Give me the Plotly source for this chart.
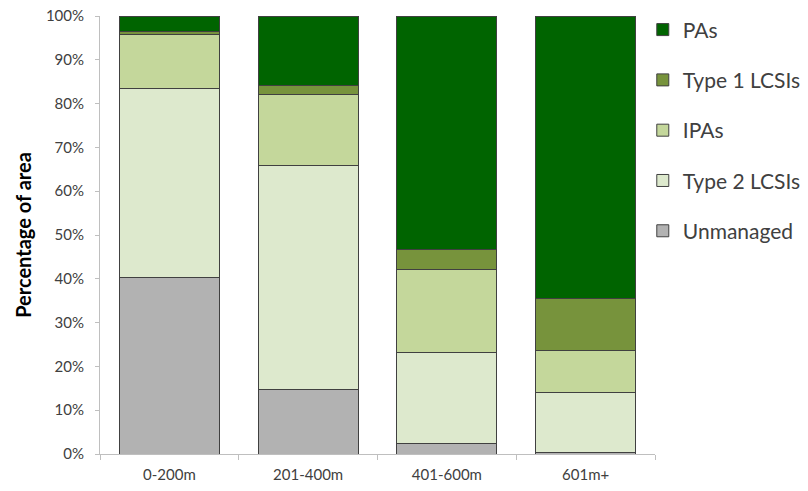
import plotly.graph_objects as go

categories = ["0-200m", "201-400m", "401-600m", "601m+"]
unmanaged = [40.3, 14.8, 2.5, 0.45]
type2_lcsis = [43.1, 51.0, 20.6, 13.65]
ipas = [12.3, 16.3, 19.1, 9.6]
type1_lcsis = [0.7, 2.1, 4.6, 11.8]
pas = [3.6, 15.8, 53.2, 64.5]

series = [
    ("Unmanaged", unmanaged, "#b2b2b2"),
    ("Type 2 LCSIs", type2_lcsis, "#dde9cd"),
    ("IPAs", ipas, "#c4d79b"),
    ("Type 1 LCSIs", type1_lcsis, "#77933c"),
    ("PAs", pas, "#006400"),
]

fig = go.Figure()
for i, (name, vals, col) in enumerate(series):
    fig.add_trace(go.Bar(
        x=categories, y=vals, name=name, legendgroup=name,
        legendrank=len(series) - i,
        marker=dict(color=col, line=dict(color="#404040", width=1)),
    ))

fig.update_layout(
    barmode="stack",
    bargap=0.28,
    width=808, height=491,
    margin=dict(l=100, r=153, t=16, b=37, autoexpand=False),
    paper_bgcolor="white", plot_bgcolor="white",
    font=dict(family="Lato, Open Sans, sans-serif", color="#404040"),
    legend=dict(
        x=0.978, y=1.015, xanchor="left", yanchor="top",
        traceorder="grouped", tracegroupgap=20,
        font=dict(size=21, color="#404040"),
        itemwidth=30,
    ),
    xaxis=dict(
        showline=True, linecolor="#bfbfbf", linewidth=1,
        ticks="outside", tickson="boundaries", ticklen=5, tickcolor="#bfbfbf",
        tickfont=dict(size=15, color="#404040"), ticklabelstandoff=7,
    ),
    yaxis=dict(
        range=[0, 100], dtick=10, ticksuffix="%",
        showline=True, linecolor="#bfbfbf", linewidth=1,
        ticks="outside", ticklen=4, tickcolor="#bfbfbf",
        showgrid=False, zeroline=False,
        tickfont=dict(size=15, color="#404040"), ticklabelstandoff=8,
        title=dict(text="<b>Percentage of area</b>", font=dict(size=20, color="#000000"), standoff=8),
    ),
)

fig.write_html("out.html")
